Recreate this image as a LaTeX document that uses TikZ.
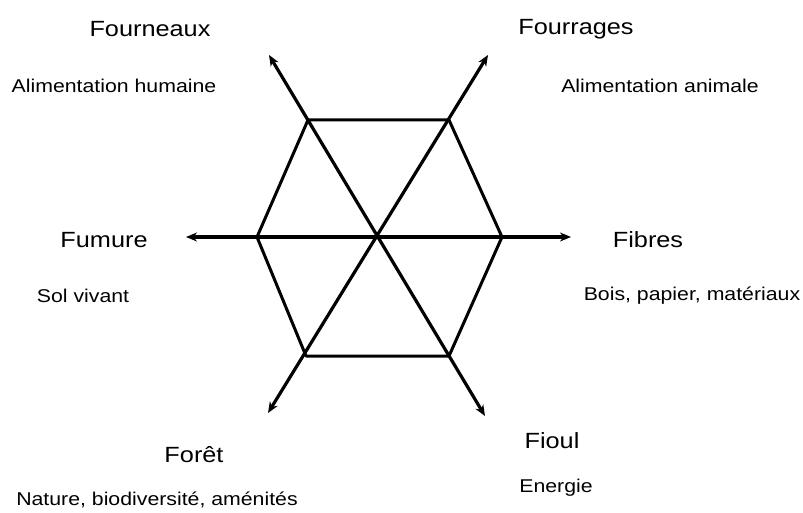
\documentclass[tikz,border=0pt]{standalone}
\usepackage{fontspec}
\setmainfont[FakeStretch=1.15]{Liberation Sans}
\usetikzlibrary{arrows.meta}
\begin{document}
\begin{tikzpicture}[x=1pt,y=-1pt,
  axis/.style={line width=3.2pt,{Stealth[length=11pt,width=9pt]}-{Stealth[length=11pt,width=9pt]}},
  hexside/.style={line width=3pt,line join=round},
  title/.style={font=\fontsize{22}{24}\selectfont,inner sep=0pt},
  sub/.style={font=\fontsize{18.5}{20}\selectfont,inner sep=0pt}]
\useasboundingbox (0,0) rectangle (803,513);
% hexagon vertices
\coordinate (h1) at (308,120);
\coordinate (h2) at (449,120);
\coordinate (h3) at (502,237);
\coordinate (h4) at (449,356);
\coordinate (h5) at (306,356);
\coordinate (h6) at (257,237);
% arrow tips
\coordinate (ul) at (269,55);
\coordinate (lr) at (485,416);
\coordinate (ur) at (488,55);
\coordinate (ll) at (268,413);
\coordinate (le) at (186,237);
\coordinate (ri) at (571,237);
\draw[hexside] (h1) -- (h2) -- (h3) -- (h4) -- (h5) -- (h6) -- cycle;
\draw[axis] (ul) -- (lr);
\draw[axis] (ur) -- (ll);
\draw[axis] (le) -- (ri);
% labels
\node[title] (t1) at (150,29) {Fourneaux};
\node[sub] (s1) at (114,86) {Alimentation humaine};
\node[title] (t2) at (576,29) {Fourrages};
\node[sub] (s2) at (660,86) {Alimentation animale};
\node[title] (t3) at (104,240) {Fumure};
\node[sub] (s3) at (83,296) {Sol vivant};
\node[title] (t4) at (648,240) {Fibres};
\node[sub] (s4) at (692,296) {Bois, papier, matériaux};
\node[title] (t5) at (194,455) {Forêt};
\node[sub] (s5) at (157,500) {Nature, biodiversité, aménités};
\node[title] (t6) at (552,441) {Fioul};
\node[sub] (s6) at (556,488) {Energie};
\end{tikzpicture}
\end{document}
